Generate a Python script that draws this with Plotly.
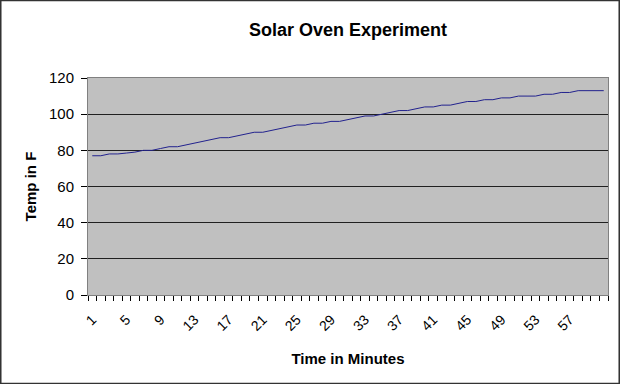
import plotly.graph_objects as go

minutes = list(range(1, 62))
temps = [77, 77, 78, 78, 78.5, 79, 80, 80, 81, 82,
         82, 83, 84, 85, 86, 87, 87, 88, 89, 90,
         90, 91, 92, 93, 94, 94, 95, 95, 96, 96,
         97, 98, 99, 99, 100, 101, 102, 102, 103, 104,
         104, 105, 105, 106, 107, 107, 108, 108, 109, 109,
         110, 110, 110, 111, 111, 112, 112, 113, 113, 113,
         113]
x_tick_labels = [str(v) for v in range(1, 58, 4)]
y_ticks = [0, 20, 40, 60, 80, 100, 120]

W, H = 620, 384
ml, mr, mt, mb = 88, 12, 78, 89

fig = go.Figure()
fig.add_trace(go.Scatter(x=minutes, y=temps, mode="lines",
                         line=dict(color="#22228e", width=1), showlegend=False))

font = "Liberation Sans, Arial, sans-serif"
fig.update_layout(
    width=W, height=H,
    margin=dict(l=ml, r=mr, t=mt, b=mb),
    paper_bgcolor="white", plot_bgcolor="#C0C0C0",
    font=dict(family=font, color="black", size=13),
    title=dict(text="<b>Solar Oven Experiment</b>", x=0.5, xref="paper",
               y=1 - 30 / H, yanchor="middle", font=dict(size=18)),
    xaxis=dict(
        range=[0.5, len(minutes) + 0.5],
        tickmode="array", tickvals=[int(v) for v in x_tick_labels], ticktext=x_tick_labels,
        ticks="", tickangle=-45, tickfont=dict(size=14), ticklabelstandoff=10,
        minor=dict(ticks="outside", tick0=0.5, dtick=1, ticklen=5, tickcolor="black", showgrid=False),
        showgrid=False, zeroline=False,
        showline=True, linecolor="#808080", mirror=True, linewidth=1,
        title=dict(text="<b>Time in Minutes</b>", font=dict(size=15), standoff=20),
    ),
    yaxis=dict(
        range=[0, 120], tickmode="array", tickvals=y_ticks,
        ticks="outside", ticklen=6, tickcolor="black",
        tickfont=dict(size=15), ticklabelstandoff=4,
        showgrid=True, gridcolor="#202020", gridwidth=1, zeroline=False,
        showline=True, linecolor="#808080", mirror=True, linewidth=1,
        title=dict(text="<b>Temp in F</b>", font=dict(size=15), standoff=8),
    ),
    shapes=[dict(type="rect", xref="paper", yref="paper",
                 x0=-ml / (W - ml - mr) + 0.001, x1=1 + mr / (W - ml - mr) - 0.001,
                 y0=-mb / (H - mt - mb) + 0.001, y1=1 + mt / (H - mt - mb) - 0.001,
                 line=dict(color="#333333", width=2), layer="below")],
)

fig.write_html("out.html", config={"displayModeBar": False},
               post_script="document.body.style.margin='0';document.body.style.overflow='hidden';")
